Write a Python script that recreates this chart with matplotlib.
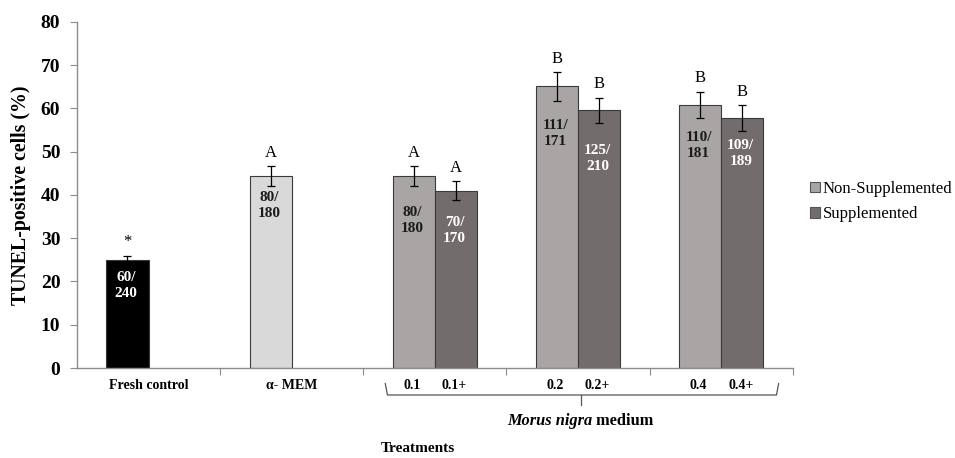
import matplotlib.pyplot as plt
from matplotlib.patches import Patch
import matplotlib.transforms as mtransforms

plt.rcParams['font.family'] = ['Liberation Serif', 'DejaVu Serif']

# data
groups = ["Fresh control", "\u03b1- MEM", "0.1", "0.2", "0.4"]
non_supp = [25.0, 44.3, 44.3, 65.1, 60.8]
non_supp_err = [1.0, 2.3, 2.3, 3.3, 3.0]
supp = [None, None, 41.0, 59.6, 57.8]
supp_err = [None, None, 2.2, 2.9, 2.9]
non_supp_counts = ["60/\n240", "80/\n180", "80/\n180", "111/\n171", "110/\n181"]
supp_counts = [None, None, "70/\n170", "125/\n210", "109/\n189"]
non_supp_letters = ["*", "A", "A", "B", "B"]
supp_letters = [None, None, "A", "B", "B"]
sub_labels = ["0.1", "0.1+", "0.2", "0.2+", "0.4", "0.4+"]

# where the count labels sit (top of text, in y units)
non_count_y = [22.4, 41.0, 37.4, 57.6, 54.9]
supp_count_y = [None, None, 35.2, 51.8, 53.0]

c_fresh = "#000000"
c_mem = "#d9d9d9"
c_non = "#a9a5a5"
c_sup = "#736c6c"
spine_c = "#8c8c8c"

fig = plt.figure(figsize=(9.55, 4.58), dpi=100)
ax = fig.add_axes([0.0806, 0.1965, 0.7494, 0.7555])

w = 0.294
colors_non = [c_fresh, c_mem, c_non, c_non, c_non]
txt_non = ["white", "#1a1a1a", "#1a1a1a", "#1a1a1a", "#1a1a1a"]
for i in range(len(groups)):
    x = i - w / 2
    ax.bar(x, non_supp[i], w, color=colors_non[i], edgecolor="#3a3a3a", lw=0.8, zorder=2)
    ax.errorbar(x, non_supp[i], yerr=non_supp_err[i], fmt="none", ecolor="black",
                elinewidth=0.9, capsize=3, capthick=0.9, zorder=3)
    ax.text(x, non_supp[i] + non_supp_err[i] + 1.3, non_supp_letters[i], ha="center",
            va="bottom", fontsize=12)
    ax.text(x - 0.01, non_count_y[i], non_supp_counts[i], ha="center", va="top",
            fontsize=11, fontweight="bold", color=txt_non[i], linespacing=1.3)
    if supp[i] is not None:
        x2 = i + w / 2
        ax.bar(x2, supp[i], w, color=c_sup, edgecolor="#3a3a3a", lw=0.8, zorder=2)
        ax.errorbar(x2, supp[i], yerr=supp_err[i], fmt="none", ecolor="black",
                    elinewidth=0.9, capsize=3, capthick=0.9, zorder=3)
        ax.text(x2, supp[i] + supp_err[i] + 1.3, supp_letters[i], ha="center",
                va="bottom", fontsize=12)
        ax.text(x2 - 0.01, supp_count_y[i], supp_counts[i], ha="center", va="top",
                fontsize=11, fontweight="bold", color="white", linespacing=1.3)

ax.set_xlim(-0.5, 4.5)
ax.set_ylim(0, 80)
ax.set_yticks(range(0, 81, 10))
for lab in ax.get_yticklabels():
    lab.set_fontweight("bold")
    lab.set_fontsize(14)
ax.set_xticks([0.5, 1.5, 2.5, 3.5, 4.5])
ax.set_xticklabels([])
ax.tick_params(axis="x", length=5, color=spine_c, direction="out")
ax.tick_params(axis="y", length=5, color=spine_c, direction="out", pad=7)
for s in ["top", "right"]:
    ax.spines[s].set_visible(False)
for s in ["left", "bottom"]:
    ax.spines[s].set_color(spine_c)
    ax.spines[s].set_linewidth(1.0)

ax.set_ylabel("TUNEL-positive cells (%)", fontsize=14.3, fontweight="bold", labelpad=7)

trans = mtransforms.blended_transform_factory(ax.transData, ax.transAxes)
ax.text(0, -0.051, groups[0], transform=trans, ha="center", va="center",
        fontsize=10, fontweight="bold")
ax.text(1, -0.051, groups[1], transform=trans, ha="center", va="center",
        fontsize=10, fontweight="bold")
sub_x = []
for i in range(2, 5):
    sub_x += [i - w / 2, i + w / 2]
for xx, lab in zip(sub_x, sub_labels):
    ax.text(xx - 0.01, -0.052, lab, transform=trans, ha="center", va="center",
            fontsize=10, fontweight="bold")

# brace under the Morus nigra groups
bl, br, bc = 1.654, 4.402, 3.02
ax.plot([bl, bl + 0.015, br - 0.015, br], [-0.045, -0.078, -0.078, -0.045],
        transform=trans, color="#555555", lw=0.9, clip_on=False)
ax.plot([bc, bc], [-0.078, -0.108], transform=trans, color="#555555", lw=0.9, clip_on=False)
ax.text(3.101, -0.152, "Morus nigra", transform=trans, ha="right", va="center",
        fontsize=11.8, fontweight="bold", fontstyle="italic")
ax.text(3.101, -0.152, " medium", transform=trans, ha="left", va="center",
        fontsize=11.8, fontweight="bold")
ax.text(1.885, -0.232, "Treatments", transform=trans, ha="center", va="center",
        fontsize=11, fontweight="bold")

handles = [Patch(facecolor=c_non, edgecolor="#555555", lw=0.8, label="Non-Supplemented"),
           Patch(facecolor=c_sup, edgecolor="#555555", lw=0.8, label="Supplemented")]
fig.legend(handles=handles, loc="center left", bbox_to_anchor=(0.836, 0.56),
           frameon=False, fontsize=12, handlelength=0.6, handleheight=0.6,
           handletextpad=0.15, labelspacing=0.55, borderpad=0.2)

fig.savefig("out.png", dpi=100)
